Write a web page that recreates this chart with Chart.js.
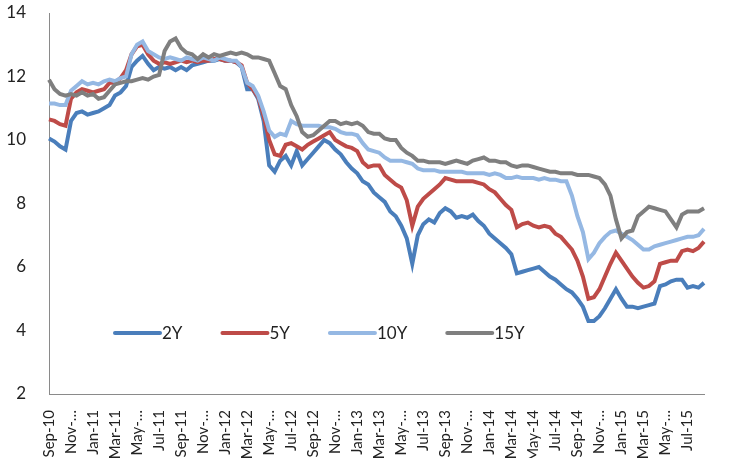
<!DOCTYPE html>
<html>
<head>
<meta charset="utf-8">
<script src="https://cdn.jsdelivr.net/npm/chart.js@4.4.1/dist/chart.umd.min.js"></script>
<style>
  html, body { margin: 0; padding: 0; background: #fff; }
  #wrap { width: 750px; height: 470px; }
</style>
</head>
<body>
<div id="wrap"><canvas id="yieldChart"></canvas></div>
<script>
// tick labels as shown on the axis (one every two months)
var tickLabels = ['Sep-10', 'Nov-…', 'Jan-11', 'Mar-11', 'May-…', 'Jul-11', 'Sep-11', 'Nov-…',
  'Jan-12', 'Mar-12', 'May-…', 'Jul-12', 'Sep-12', 'Nov-…', 'Jan-13', 'Mar-13', 'May-…',
  'Jul-13', 'Sep-13', 'Nov-…', 'Jan-14', 'Mar-14', 'May-14', 'Jul-14', 'Sep-14', 'Nov-…',
  'Jan-15', 'Mar-15', 'May-…', 'Jul-15'];

// half-month observations, four per two-month tick
var categories = tickLabels.flatMap(function (t) { return [t, '', '', '']; });

var y2 = [10.05, 9.95, 9.8, 9.7, 10.6, 10.85, 10.9, 10.8, 10.85, 10.9,
  11.0, 11.1, 11.4, 11.5, 11.7, 12.3, 12.5, 12.65, 12.4, 12.2,
  12.3, 12.25, 12.3, 12.2, 12.3, 12.2, 12.35, 12.4, 12.45, 12.5,
  12.5, 12.55, 12.5, 12.5, 12.45, 12.3, 11.6, 11.6, 11.3, 10.6,
  9.2, 9.0, 9.35, 9.5, 9.2, 9.65, 9.2, 9.4, 9.6, 9.8,
  10.0, 9.9, 9.7, 9.55, 9.3, 9.1, 8.95, 8.7, 8.6, 8.35,
  8.2, 8.05, 7.75, 7.6, 7.3, 6.9, 6.1, 7.0, 7.35, 7.5,
  7.4, 7.7, 7.85, 7.75, 7.55, 7.6, 7.55, 7.65, 7.45, 7.3,
  7.05, 6.9, 6.75, 6.6, 6.4, 5.8, 5.85, 5.9, 5.95, 6.0,
  5.85, 5.7, 5.6, 5.45, 5.3, 5.2, 5.0, 4.75, 4.3, 4.3,
  4.45, 4.7, 5.0, 5.3, 5.0, 4.75, 4.75, 4.7, 4.75, 4.8,
  4.85, 5.4, 5.45, 5.55, 5.6, 5.6, 5.35, 5.4, 5.35, 5.5];

var y5 = [10.65, 10.6, 10.5, 10.45, 11.3, 11.5, 11.6, 11.55, 11.5, 11.55,
  11.6, 11.8, 11.8, 11.95, 12.2, 12.7, 12.95, 13.0, 12.7, 12.5,
  12.4, 12.45, 12.4, 12.45, 12.5, 12.45, 12.5, 12.45, 12.5, 12.5,
  12.55, 12.55, 12.5, 12.5, 12.45, 12.35, 11.8, 11.6, 11.35, 10.75,
  10.0, 9.55, 9.5, 9.85, 9.9, 9.8, 9.7, 9.85, 9.95, 10.05,
  10.15, 10.25, 10.0, 9.9, 9.8, 9.75, 9.65, 9.3, 9.15, 9.2,
  9.2, 8.9, 8.75, 8.6, 8.5, 8.1, 7.3, 7.9, 8.15, 8.3,
  8.45, 8.6, 8.8, 8.75, 8.7, 8.7, 8.7, 8.7, 8.65, 8.6,
  8.45, 8.35, 8.15, 7.95, 7.8, 7.25, 7.35, 7.4, 7.3, 7.25,
  7.3, 7.25, 7.05, 6.95, 6.75, 6.55, 6.2, 5.7, 5.0, 5.05,
  5.3, 5.7, 6.1, 6.45, 6.2, 5.95, 5.7, 5.5, 5.35, 5.4,
  5.55, 6.1, 6.15, 6.2, 6.2, 6.5, 6.55, 6.5, 6.6, 6.8];

var y10 = [11.15, 11.15, 11.1, 11.1, 11.55, 11.7, 11.85, 11.75, 11.8, 11.75,
  11.85, 11.9, 11.85, 11.95, 12.0, 12.7, 13.0, 13.1, 12.8, 12.7,
  12.6, 12.55, 12.6, 12.55, 12.5, 12.6, 12.55, 12.5, 12.6, 12.55,
  12.5, 12.6, 12.55, 12.5, 12.5, 12.3, 11.8, 11.7, 11.4, 10.9,
  10.3, 10.1, 10.2, 10.15, 10.6, 10.5, 10.45, 10.45, 10.45, 10.45,
  10.4, 10.4, 10.35, 10.25, 10.2, 10.2, 10.15, 9.9, 9.7, 9.65,
  9.6, 9.45, 9.35, 9.35, 9.35, 9.3, 9.25, 9.1, 9.05, 9.05,
  9.05, 9.0, 9.0, 9.0, 9.0, 9.0, 8.95, 8.95, 8.95, 8.95,
  8.9, 8.95, 8.9, 8.8, 8.8, 8.85, 8.8, 8.8, 8.8, 8.75,
  8.8, 8.75, 8.75, 8.7, 8.7, 8.25, 7.6, 7.1, 6.25, 6.45,
  6.75, 6.95, 7.1, 7.15, 7.05, 6.95, 6.85, 6.7, 6.55, 6.55,
  6.65, 6.7, 6.75, 6.8, 6.85, 6.9, 6.95, 6.95, 7.0, 7.2];

var y15 = [11.9, 11.6, 11.45, 11.4, 11.45, 11.4, 11.5, 11.4, 11.45, 11.3,
  11.35, 11.55, 11.75, 11.8, 11.85, 11.85, 11.9, 11.95, 11.9, 12.0,
  12.05, 12.8, 13.1, 13.2, 12.9, 12.75, 12.7, 12.55, 12.7, 12.6,
  12.7, 12.65, 12.7, 12.75, 12.7, 12.75, 12.7, 12.6, 12.6, 12.55,
  12.5, 12.1, 11.7, 11.6, 11.1, 10.75, 10.25, 10.1, 10.15, 10.3,
  10.45, 10.6, 10.6, 10.5, 10.55, 10.5, 10.55, 10.45, 10.25, 10.2,
  10.2, 10.05, 10.0, 10.0, 9.75, 9.6, 9.5, 9.35, 9.35, 9.3,
  9.3, 9.3, 9.25, 9.3, 9.35, 9.3, 9.25, 9.35, 9.4, 9.45,
  9.35, 9.35, 9.3, 9.3, 9.2, 9.15, 9.2, 9.2, 9.15, 9.1,
  9.05, 9.0, 9.0, 8.95, 8.95, 8.95, 8.9, 8.9, 8.9, 8.85,
  8.8, 8.6, 8.25, 7.5, 6.9, 7.1, 7.15, 7.6, 7.75, 7.9,
  7.85, 7.8, 7.75, 7.5, 7.25, 7.65, 7.75, 7.75, 7.75, 7.85];

var seriesNames = ['2Y', '5Y', '10Y', '15Y'];
var seriesColors = ['#4A7EBB', '#BE4B48', '#95B8E3', '#7F7F7F'];

var FONT = 'Lato, "Liberation Sans", sans-serif';

// legend drawn inside the plot, like the original
var insideLegend = {
  id: 'insideLegend',
  afterDraw: function (chart) {
    var ctx = chart.ctx;
    var x = 115, y = 333;
    ctx.save();
    ctx.font = '17px ' + FONT;
    ctx.textBaseline = 'middle';
    chart.data.datasets.forEach(function (ds) {
      ctx.strokeStyle = ds.borderColor;
      ctx.lineWidth = 4;
      ctx.lineCap = 'round';
      ctx.beginPath();
      ctx.moveTo(x, y);
      ctx.lineTo(x + 45, y);
      ctx.stroke();
      ctx.fillStyle = '#222';
      ctx.fillText(ds.label, x + 47, y + 1);
      x += 47 + ctx.measureText(ds.label).width + 40;
    });
    ctx.restore();
  }
};

var ctx = document.getElementById('yieldChart').getContext('2d');
var yieldChart = new Chart(ctx, {
  type: 'line',
  data: {
    labels: categories,
    datasets: [y2, y5, y10, y15].map(function (vals, i) {
      return {
        label: seriesNames[i],
        data: vals,
        borderColor: seriesColors[i],
        backgroundColor: seriesColors[i],
        borderWidth: 4,
        pointRadius: 0,
        tension: 0,
        order: 3 - i // later series on top
      };
    })
  },
  options: {
    responsive: true,
    maintainAspectRatio: false,
    animation: false,
    layout: { padding: { left: 5, right: 46, top: 13, bottom: 12 } },
    scales: {
      x: {
        grid: { display: false, drawTicks: false },
        border: { display: true, color: '#8a8a8a', width: 1 },
        afterFit: function (scale) { scale.height = 64; scale.paddingLeft = 0; scale.paddingRight = 0; },
        ticks: {
          autoSkip: false,
          maxRotation: 90,
          minRotation: 90,
          padding: 16,
          color: '#222',
          font: { family: FONT, size: 15 },
          callback: function (v, i) { return i % 4 === 0 ? tickLabels[i / 4] : null; }
        }
      },
      y: {
        min: 2,
        max: 14,
        grid: { display: false, drawTicks: false },
        border: { display: true, color: '#8a8a8a', width: 1 },
        afterFit: function (scale) { scale.width = 44; scale.paddingTop = 0; scale.paddingBottom = 0; },
        ticks: {
          stepSize: 2,
          padding: 23,
          color: '#222',
          font: { family: FONT, size: 17 }
        }
      }
    },
    plugins: {
      legend: { display: false },
      tooltip: { enabled: false }
    }
  },
  plugins: [insideLegend]
});
</script>
</body>
</html>
